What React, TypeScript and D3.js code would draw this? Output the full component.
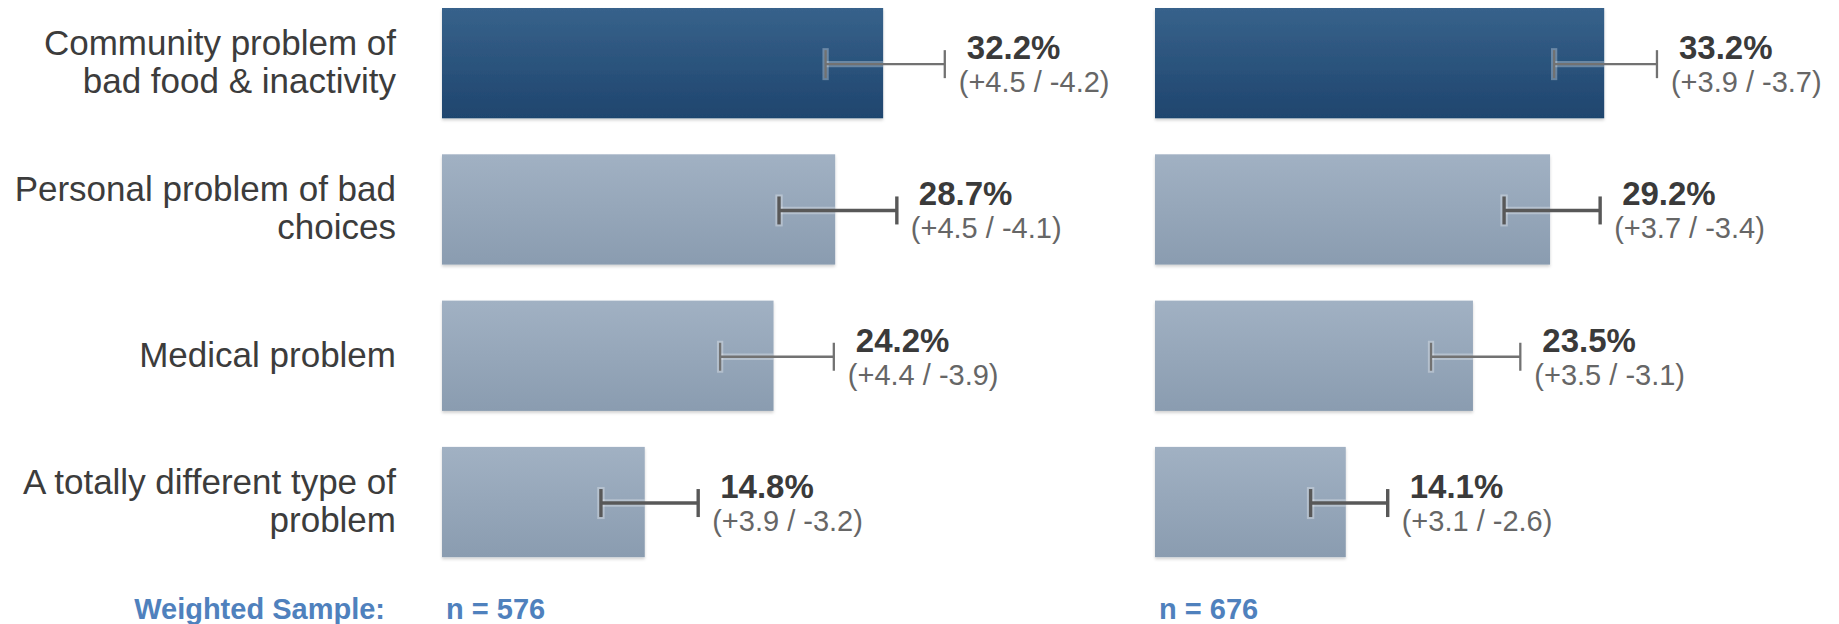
import React from "react";
import * as d3 from "d3";

const categoryLines: string[][] = [
  ["Community problem of", "bad food & inactivity"],
  ["Personal problem of bad", "choices"],
  ["Medical problem"],
  ["A totally different type of", "problem"],
];
const highlight = [true, false, false, false];

const leftValues = [32.2, 28.7, 24.2, 14.8];
const leftPlus = [4.5, 4.5, 4.4, 3.9];
const leftMinus = [4.2, 4.1, 3.9, 3.2];

const rightValues = [33.2, 29.2, 23.5, 14.1];
const rightPlus = [3.9, 3.7, 3.5, 3.1];
const rightMinus = [3.7, 3.4, 3.1, 2.6];

const sampleLabel = "Weighted Sample:";
const sampleSizes = [576, 676];

const W = 1839;
const H = 624;
const FONT = "'Liberation Sans', Arial, sans-serif";
const errStroke = [2.3, 3.4, 2.3, 3.4];
const errColor = ["#727272", "#585858", "#727272", "#585858"];

type Panel = { values: number[]; plus: number[]; minus: number[]; x0: number; pxPerUnit: number; n: number };

const panels: Panel[] = [
  { values: leftValues, plus: leftPlus, minus: leftMinus, x0: 442, pxPerUnit: 13.7, n: sampleSizes[0] },
  { values: rightValues, plus: rightPlus, minus: rightMinus, x0: 1155, pxPerUnit: 13.53, n: sampleSizes[1] },
];

const ids = categoryLines.map((_, i) => String(i));
const y = d3
  .scaleBand<string>()
  .domain(ids)
  .range([8, 8 + 146.3 * 4 - 36])
  .paddingInner(36 / 146.3)
  .paddingOuter(0);

export default function App() {
  const bw = y.bandwidth();
  return (
    <svg
      width={W}
      height={H}
      style={{ position: "absolute", left: 0, top: 0, background: "#fff" }}
      fontFamily={FONT}
    >
      <defs>
        <linearGradient id="gDark" x1="0" y1="0" x2="0" y2="1">
          <stop offset="0" stopColor="#37628b" />
          <stop offset="1" stopColor="#1f456e" />
        </linearGradient>
        <linearGradient id="gLight" x1="0" y1="0" x2="0" y2="1">
          <stop offset="0" stopColor="#a1b1c3" />
          <stop offset="1" stopColor="#8a9cb0" />
        </linearGradient>
        <filter id="shadow" x="-5%" y="-10%" width="110%" height="130%">
          <feDropShadow dx="0" dy="2" stdDeviation="1.5" floodColor="#000" floodOpacity="0.18" />
        </filter>
      </defs>

      {categoryLines.map((lines, i) => {
        const cy = (y(String(i)) as number) + bw / 2;
        const lh = 38;
        return (
          <text key={"c" + i} textAnchor="end" fontSize={35} fill="#3c3c3c">
            {lines.map((ln, j) => (
              <tspan key={j} x={396} y={cy + (j - (lines.length - 1) / 2) * lh + 11}>
                {ln}
              </tspan>
            ))}
          </text>
        );
      })}

      {panels.map((p, pi) => {
        const x = d3
          .scaleLinear()
          .domain([0, 40])
          .range([p.x0, p.x0 + 40 * p.pxPerUnit]);
        return (
          <g key={"p" + pi}>
            {p.values.map((v, i) => {
              const top = y(String(i)) as number;
              const ey = top + bw / 2 + 1;
              const lo = x(v - p.minus[i]);
              const hi = x(v + p.plus[i]);
              const barEnd = x(v);
              const sw = errStroke[i];
              return (
                <g key={i}>
                  <rect
                    x={x(0)}
                    y={top}
                    width={barEnd - x(0)}
                    height={bw}
                    fill={highlight[i] ? "url(#gDark)" : "url(#gLight)"}
                    filter="url(#shadow)"
                  />
                  <g stroke="#ffffff" strokeOpacity={0.3} strokeWidth={sw + 4} fill="none">
                    <line x1={lo} x2={barEnd} y1={ey} y2={ey} />
                    <line x1={lo} x2={lo} y1={ey - 16} y2={ey + 16} />
                  </g>
                  <g stroke={errColor[i]} strokeWidth={sw} fill="none">
                    <line x1={lo} x2={hi} y1={ey} y2={ey} />
                    <line x1={lo} x2={lo} y1={ey - 14} y2={ey + 14} />
                    <line x1={hi} x2={hi} y1={ey - 14} y2={ey + 14} />
                  </g>
                  <text x={hi + 22} y={top + 51} fontSize={33} fontWeight="bold" fill="#3a3a3a">
                    {v.toFixed(1) + "%"}
                  </text>
                  <text x={hi + 14} y={top + 84} fontSize={29} fill="#666666">
                    {`(+${p.plus[i].toFixed(1)} / -${p.minus[i].toFixed(1)})`}
                  </text>
                </g>
              );
            })}
            <text x={p.x0 + 4} y={619} fontSize={29} fontWeight="bold" fill="#4f81bd">
              {`n = ${p.n}`}
            </text>
          </g>
        );
      })}

      <text x={385} y={619} textAnchor="end" fontSize={29} fontWeight="bold" fill="#4f81bd">
        {sampleLabel}
      </text>
    </svg>
  );
}
